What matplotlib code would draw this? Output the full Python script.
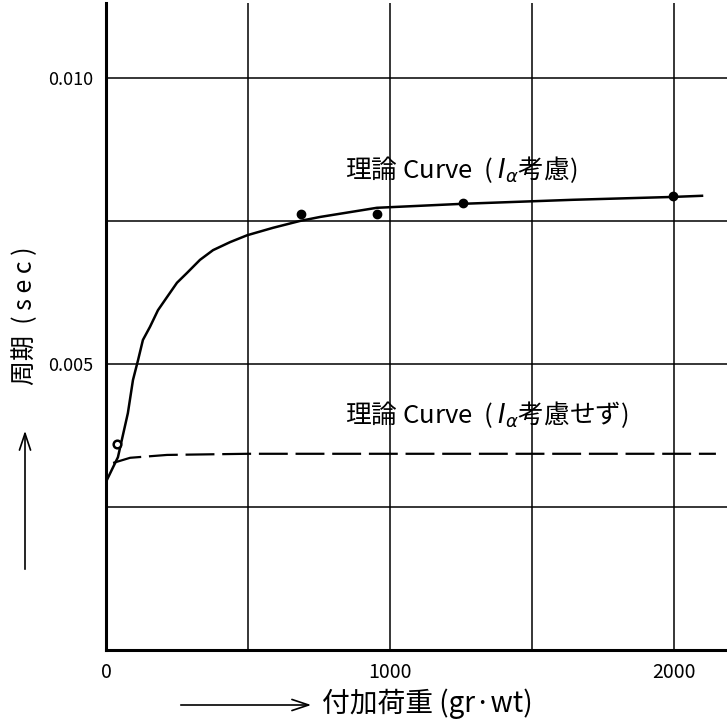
import numpy as np
import matplotlib
matplotlib.use("Agg")
import matplotlib.pyplot as plt

plt.rcParams['font.family'] = ['Noto Sans CJK JP', 'DejaVu Sans']

# measured points (load in gr-wt, period in sec)
measured_load = [39, 687, 954, 1257, 1996]
measured_period = [0.00360, 0.00762, 0.00762, 0.00781, 0.00794]

# theoretical curve including I_alpha
theory_load = [0, 42, 77, 95, 113, 130, 155, 183, 215, 250, 285, 331, 377, 437, 497,
               588, 683, 754, 954, 1257, 1645, 1997, 2099]
theory_period = [0.00294, 0.00337, 0.00414, 0.00472, 0.00507, 0.00542, 0.00565, 0.00594,
                 0.00617, 0.00642, 0.00659, 0.00682, 0.00699, 0.00713, 0.00725, 0.00738,
                 0.00750, 0.00757, 0.00773, 0.00780, 0.00787, 0.00792, 0.00794]

# theoretical curve without I_alpha
plain_load = [25, 85, 215, 500, 1000, 1500, 2148]
plain_period = [0.00327, 0.00336, 0.00341, 0.00343, 0.00343, 0.00343, 0.00343]

x_ticks = [0, 1000, 2000]
x_ticklabels = ["0", "1000", "2000"]
y_ticks = [0.005, 0.010]
y_ticklabels = ["0.005", "0.010"]
x_grid = [500, 1000, 1500, 2000]
y_grid = [0.0025, 0.005, 0.0075, 0.010]

fig = plt.figure(figsize=(7.27, 7.28), dpi=100)
ax = fig.add_axes([106 / 727, 78 / 728, 1 - 106 / 727, 647 / 728])
ax.set_xlim(0, 2187)
ax.set_ylim(0, 0.01131)

for g in x_grid:
    ax.axvline(g, color='black', lw=1.1, zorder=1)
for g in y_grid:
    ax.axhline(g, color='black', lw=1.1, zorder=1)

ax.plot(theory_load, theory_period, color='black', lw=1.8, zorder=3)
ax.plot(plain_load, plain_period, color='black', lw=1.6, dashes=(13, 3.5), zorder=3)
ax.plot(measured_load[1:], measured_period[1:], 'o', color='black', ms=6, zorder=4)
ax.plot(measured_load[:1], measured_period[:1], 'o', mfc='white', mec='black', mew=1.8, ms=5.5, zorder=4)

for s in ['top', 'right']:
    ax.spines[s].set_visible(False)
ax.spines['left'].set_linewidth(2.2)
ax.spines['bottom'].set_linewidth(2.2)

ax.set_xticks(x_ticks)
ax.set_xticklabels(x_ticklabels, fontsize=14)
ax.set_yticks(y_ticks)
ax.set_yticklabels(y_ticklabels, fontsize=13)
ax.tick_params(length=0, pad=9)

ax.text(842, 0.00840, r"理論 Curve  ( $I_{\alpha}$考慮)", fontsize=18.5, va='center', ha='left')
ax.text(842, 0.00411, r"理論 Curve  ( $I_{\alpha}$考慮せず)", fontsize=18.5, va='center', ha='left')

# axis labels with hand-drawn style arrows
fig.text(25 / 727, 1 - 316 / 728, "周期  ( s e c )", rotation=90, fontsize=18, ha='center', va='center')
fig.patches.append(matplotlib.patches.FancyArrowPatch(
    (25 / 727, 1 - 572 / 728), (25 / 727, 1 - 428 / 728), transform=fig.transFigure,
    arrowstyle='->,head_length=12,head_width=4', lw=1.2, color='black'))
fig.text(322 / 727, 1 - 704 / 728, "付加荷重 (gr·wt)", fontsize=20, ha='left', va='center')
fig.patches.append(matplotlib.patches.FancyArrowPatch(
    (178 / 727, 1 - 705 / 728), (314 / 727, 1 - 705 / 728), transform=fig.transFigure,
    arrowstyle='->,head_length=12,head_width=4', lw=1.2, color='black'))

fig.savefig("out.png", dpi=100)
